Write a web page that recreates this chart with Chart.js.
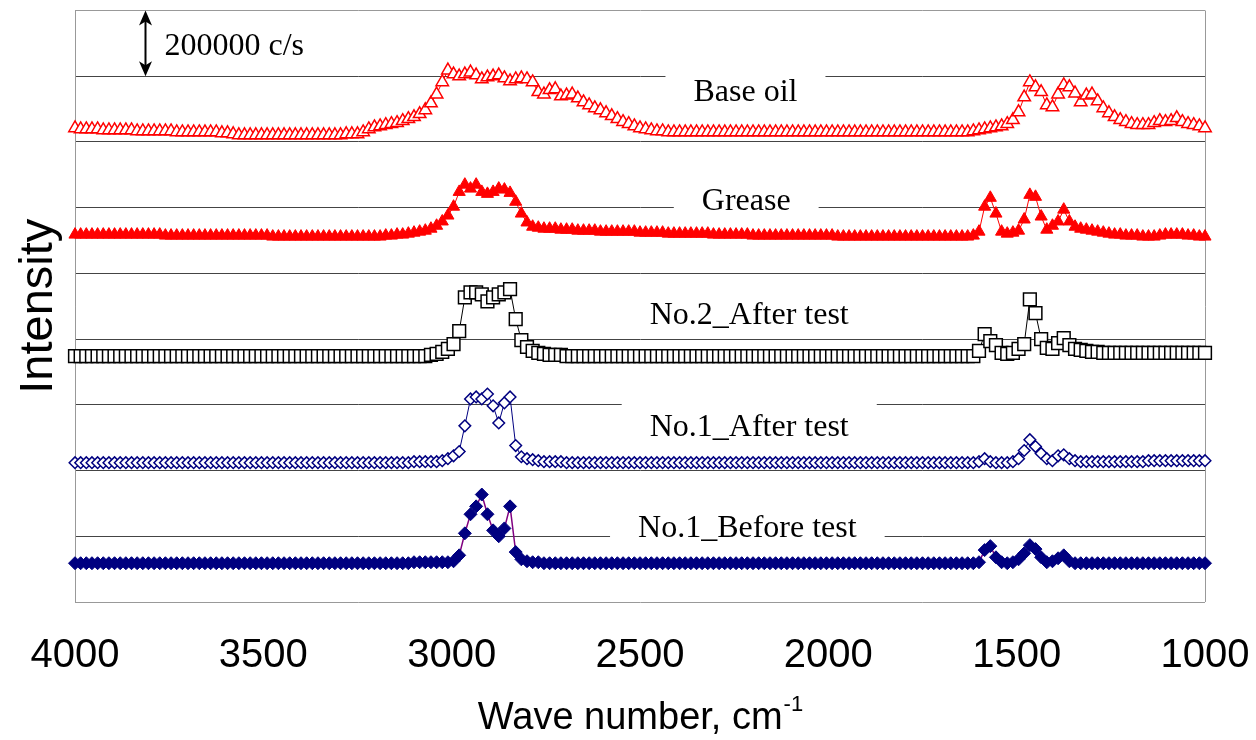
<!DOCTYPE html>
<html>
<head>
<meta charset="utf-8">
<title>IR spectra</title>
<script src="https://cdn.jsdelivr.net/npm/chart.js@4/dist/chart.umd.min.js"></script>
<style>
  body { margin: 0; background: #fff; }
  canvas { display: block; }
</style>
</head>
<body>
<canvas id="myChart" width="1256" height="740"></canvas>
<script>
// 波数 (cm-1)
const wavenumbers = [
  4000,3985,3970,3955,3940,3925,3910,3895,3880,3865,
  3850,3835,3820,3805,3790,3775,3760,3745,3730,3715,
  3700,3685,3670,3655,3640,3625,3610,3595,3580,3565,
  3550,3535,3520,3505,3490,3475,3460,3445,3430,3415,
  3400,3385,3370,3355,3340,3325,3310,3295,3280,3265,
  3250,3235,3220,3205,3190,3175,3160,3145,3130,3115,
  3100,3085,3070,3055,3040,3025,3010,2995,2980,2965,
  2950,2935,2920,2905,2890,2875,2860,2845,2830,2815,
  2800,2785,2770,2755,2740,2725,2710,2695,2680,2665,
  2650,2635,2620,2605,2590,2575,2560,2545,2530,2515,
  2500,2485,2470,2455,2440,2425,2410,2395,2380,2365,
  2350,2335,2320,2305,2290,2275,2260,2245,2230,2215,
  2200,2185,2170,2155,2140,2125,2110,2095,2080,2065,
  2050,2035,2020,2005,1990,1975,1960,1945,1930,1915,
  1900,1885,1870,1855,1840,1825,1810,1795,1780,1765,
  1750,1735,1720,1705,1690,1675,1660,1645,1630,1615,
  1600,1585,1570,1555,1540,1525,1510,1495,1480,1465,
  1450,1435,1420,1405,1390,1375,1360,1345,1330,1315,
  1300,1285,1270,1255,1240,1225,1210,1195,1180,1165,
  1150,1135,1120,1105,1090,1075,1060,1045,1030,1015,
  1000
];

// 強度 (x1000 c/s)、各スペクトルは縦にずらしてある
const baseOil = [
  1442,1439,1439,1439,1439,1436,1436,1436,1436,1436,
  1436,1433,1433,1433,1433,1433,1433,1433,1430,1430,
  1430,1430,1430,1430,1430,1430,1427,1427,1424,1421,
  1421,1421,1421,1421,1421,1421,1421,1421,1421,1421,
  1421,1421,1421,1421,1421,1421,1421,1421,1424,1424,
  1424,1430,1439,1445,1448,1452,1455,1458,1464,1470,
  1476,1485,1497,1518,1545,1582,1618,1606,1600,1606,
  1612,1603,1591,1597,1600,1603,1594,1585,1591,1594,
  1591,1582,1552,1545,1558,1561,1539,1542,1545,1533,
  1521,1512,1503,1497,1488,1479,1470,1461,1455,1448,
  1442,1439,1436,1433,1433,1430,1430,1430,1430,1430,
  1430,1430,1430,1430,1430,1430,1430,1430,1430,1430,
  1430,1430,1430,1430,1430,1430,1430,1430,1430,1430,
  1430,1430,1430,1430,1430,1430,1430,1430,1430,1430,
  1430,1430,1430,1430,1430,1430,1430,1430,1430,1430,
  1430,1430,1430,1430,1430,1430,1430,1430,1430,1433,
  1436,1439,1442,1445,1448,1455,1467,1491,1536,1582,
  1567,1552,1512,1506,1545,1573,1567,1548,1521,1542,
  1545,1524,1503,1488,1476,1467,1461,1455,1452,1452,
  1452,1458,1464,1461,1464,1473,1461,1455,1452,1448,
  1442
];

const grease = [
  1118,1118,1118,1118,1118,1118,1118,1118,1118,1118,
  1118,1118,1118,1118,1118,1118,1115,1115,1115,1115,
  1115,1115,1115,1115,1115,1115,1115,1115,1115,1115,
  1115,1115,1115,1115,1115,1112,1112,1112,1112,1112,
  1112,1112,1112,1112,1112,1112,1112,1112,1112,1112,
  1112,1112,1112,1112,1112,1115,1115,1118,1118,1121,
  1124,1127,1130,1136,1145,1158,1176,1203,1248,1270,
  1258,1270,1248,1242,1248,1258,1255,1245,1218,1182,
  1155,1142,1139,1136,1136,1136,1133,1133,1133,1130,
  1130,1130,1130,1127,1127,1127,1127,1127,1127,1127,
  1124,1124,1124,1124,1124,1121,1121,1121,1121,1121,
  1121,1121,1121,1118,1118,1118,1118,1118,1118,1118,
  1115,1115,1115,1115,1115,1115,1115,1115,1115,1115,
  1115,1115,1115,1115,1115,1112,1112,1112,1112,1112,
  1112,1112,1112,1112,1112,1112,1112,1112,1112,1112,
  1112,1112,1112,1112,1112,1112,1112,1112,1112,1115,
  1127,1203,1230,1182,1127,1121,1124,1130,1164,1239,
  1233,1173,1133,1145,1158,1194,1158,1142,1136,1133,
  1130,1127,1124,1121,1118,1118,1115,1115,1115,1112,
  1112,1112,1115,1118,1118,1118,1118,1115,1115,1112,
  1112
];

const no2After = [
  748,748,748,748,748,748,748,748,748,748,
  748,748,748,748,748,748,748,748,748,748,
  748,748,748,748,748,748,748,748,748,748,
  748,748,748,748,748,748,748,748,748,748,
  748,748,748,748,748,748,748,748,748,748,
  748,748,748,748,748,748,748,748,748,748,
  748,748,748,752,755,761,770,785,824,927,
  942,942,936,915,927,936,942,952,861,797,
  776,764,758,755,752,752,752,748,748,748,
  748,748,748,748,748,748,748,748,748,748,
  748,748,748,748,748,748,748,748,748,748,
  748,748,748,748,748,748,748,748,748,748,
  748,748,748,748,748,748,748,748,748,748,
  748,748,748,748,748,748,748,748,748,748,
  748,748,748,748,748,748,748,748,748,748,
  748,748,748,748,748,748,748,748,748,748,
  764,815,794,782,758,755,758,770,785,921,
  879,800,773,770,788,803,782,770,767,764,
  761,761,758,758,758,758,758,758,758,758,
  758,758,758,758,758,758,758,758,758,758,
  758
];

const no1After = [
  424,424,424,424,424,424,424,424,424,424,
  424,424,424,424,424,424,424,424,424,424,
  424,424,424,424,424,424,424,424,424,424,
  424,424,424,424,424,424,424,424,424,424,
  424,424,424,424,424,424,424,424,424,424,
  424,424,424,424,424,424,424,424,424,424,
  427,427,427,427,427,430,436,445,458,536,
  618,624,618,633,597,545,606,624,476,442,
  436,433,430,427,427,427,427,424,424,424,
  424,424,424,424,424,424,424,424,424,424,
  424,424,424,424,424,424,424,424,424,424,
  424,424,424,424,424,424,424,424,424,424,
  424,424,424,424,424,424,424,424,424,424,
  424,424,424,424,424,424,424,424,424,424,
  424,424,424,424,424,424,424,424,424,424,
  424,424,424,424,424,424,424,424,424,424,
  427,436,427,424,424,424,427,436,461,494,
  473,452,436,430,445,448,436,430,427,427,
  427,427,427,427,427,427,427,427,427,427,
  430,430,430,430,430,430,430,430,430,430,
  430
];

const no1Before = [
  118,118,118,118,118,118,118,118,118,118,
  118,118,118,118,118,118,118,118,118,118,
  118,118,118,118,118,118,118,118,118,118,
  118,118,118,118,118,118,118,118,118,118,
  118,118,118,118,118,118,118,118,118,118,
  118,118,118,118,118,118,118,118,118,118,
  121,121,121,121,121,121,121,124,142,209,
  267,291,327,267,218,200,224,291,152,130,
  124,121,121,118,118,118,118,118,118,118,
  118,118,118,118,118,118,118,118,118,118,
  118,118,118,118,118,118,118,118,118,118,
  118,118,118,118,118,118,118,118,118,118,
  118,118,118,118,118,118,118,118,118,118,
  118,118,118,118,118,118,118,118,118,118,
  118,118,118,118,118,118,118,118,118,118,
  118,118,118,118,118,118,118,118,118,118,
  121,158,170,136,121,118,121,130,148,173,
  161,136,121,124,133,142,124,118,118,118,
  118,118,118,118,118,118,118,118,118,118,
  118,118,118,118,118,118,118,118,118,118,
  118
];

const seriesNames = ['Base oil', 'Grease', 'No.2_After test', 'No.1_After test', 'No.1_Before test'];
const xTicks = [4000, 3500, 3000, 2500, 2000, 1500, 1000];
const scaleBar = 200; // 200000 c/s

function toPoints(values) {
  return values.map((v, i) => ({ x: wavenumbers[i], y: v }));
}

// ラベルを置く位置 (波数, 強度)
const tagSpots = [
  { wn: 2220, level: 1552 },
  { wn: 2218, level: 1221 },
  { wn: 2210, level: 876 },
  { wn: 2210, level: 533 },
  { wn: 2215, level: 227 }
];

const decorPlugin = {
  id: 'decor',
  beforeDatasetsDraw(chart) {
    // 系列名 (白い枠で罫線を隠す)
    const { ctx, scales: { x, y } } = chart;
    ctx.save();
    ctx.font = '32px "Liberation Serif", "Times New Roman", serif';
    ctx.textAlign = 'center';
    ctx.textBaseline = 'middle';
    seriesNames.forEach((name, i) => {
      const cx = x.getPixelForValue(tagSpots[i].wn);
      const cy = y.getPixelForValue(tagSpots[i].level);
      const w = ctx.measureText(name).width + 56;
      ctx.fillStyle = '#fff';
      ctx.fillRect(cx - w / 2, cy - 24, w, 45);
      ctx.fillStyle = '#000';
      ctx.fillText(name, cx, cy + 1);
    });
    ctx.restore();
  },
  afterDraw(chart) {
    const { ctx, scales: { x, y }, chartArea } = chart;
    ctx.save();

    // スケールの矢印 (1目盛 = 200000 c/s)
    const ax = Math.round(x.getPixelForValue(3815)) + 0.5;
    const y1 = y.getPixelForValue(1800);
    const y2 = y.getPixelForValue(1800 - scaleBar);
    ctx.strokeStyle = '#000';
    ctx.fillStyle = '#000';
    ctx.lineWidth = 2;
    ctx.beginPath();
    ctx.moveTo(ax, y1 + 10);
    ctx.lineTo(ax, y2 - 10);
    ctx.stroke();
    ctx.beginPath();
    ctx.moveTo(ax, y1);
    ctx.lineTo(ax - 6.5, y1 + 15);
    ctx.lineTo(ax, y1 + 11);
    ctx.lineTo(ax + 6.5, y1 + 15);
    ctx.closePath();
    ctx.fill();
    ctx.beginPath();
    ctx.moveTo(ax, y2);
    ctx.lineTo(ax - 6.5, y2 - 15);
    ctx.lineTo(ax, y2 - 11);
    ctx.lineTo(ax + 6.5, y2 - 15);
    ctx.closePath();
    ctx.fill();

    ctx.font = '32px "Liberation Serif", "Times New Roman", serif';
    ctx.textAlign = 'left';
    ctx.textBaseline = 'alphabetic';
    ctx.fillText('200000 c/s', ax + 19, 55);

    // 横軸タイトル (上付き -1)
    const mainFont = '38px "Liberation Sans", Arial, sans-serif';
    const supFont = '22px "Liberation Sans", Arial, sans-serif';
    ctx.font = mainFont;
    const t1 = 'Wave number, cm';
    const w1 = ctx.measureText(t1).width;
    ctx.font = supFont;
    const w2 = ctx.measureText('-1').width;
    const cx = (chartArea.left + chartArea.right) / 2;
    const startX = cx - (w1 + w2) / 2;
    ctx.font = mainFont;
    ctx.fillText(t1, startX, 729);
    ctx.font = supFont;
    ctx.fillText('-1', startX + w1 + 1, 711);

    // 縦軸タイトル
    ctx.translate(52, (chartArea.top + chartArea.bottom) / 2);
    ctx.rotate(-Math.PI / 2);
    ctx.font = '47px "Liberation Sans", Arial, sans-serif';
    ctx.textAlign = 'center';
    ctx.fillText('Intensity', 0, 0);
    ctx.restore();
  }
};

const ctx = document.getElementById('myChart').getContext('2d');

const myChart = new Chart(ctx, {
  type: 'line',
  data: {
    datasets: [
      {
        label: seriesNames[0],
        data: toPoints(baseOil),
        borderColor: '#ff0000',
        borderWidth: 1,
        pointStyle: 'triangle',
        pointRadius: 7.2,
        pointBorderWidth: 1.5,
        pointBorderColor: '#ff0000',
        pointBackgroundColor: '#ffffff'
      },
      {
        label: seriesNames[1],
        data: toPoints(grease),
        borderColor: '#ff0000',
        borderWidth: 1,
        pointStyle: 'triangle',
        pointRadius: 7,
        pointBorderWidth: 1,
        pointBorderColor: '#ff0000',
        pointBackgroundColor: '#ff0000'
      },
      {
        label: seriesNames[2],
        data: toPoints(no2After),
        borderColor: '#000000',
        borderWidth: 1,
        pointStyle: 'rect',
        pointRadius: 9,
        pointBorderWidth: 1.5,
        pointBorderColor: '#000000',
        pointBackgroundColor: '#ffffff'
      },
      {
        label: seriesNames[3],
        data: toPoints(no1After),
        borderColor: '#000080',
        borderWidth: 1,
        pointStyle: 'rectRot',
        pointRadius: 5.8,
        pointBorderWidth: 1.5,
        pointBorderColor: '#000080',
        pointBackgroundColor: '#ffffff'
      },
      {
        label: seriesNames[4],
        data: toPoints(no1Before),
        borderColor: '#800080',
        borderWidth: 1.5,
        pointStyle: 'rectRot',
        pointRadius: 6.5,
        pointBorderWidth: 1,
        pointBorderColor: '#000080',
        pointBackgroundColor: '#000080'
      }
    ]
  },
  options: {
    responsive: false,
    devicePixelRatio: 1,
    animation: false,
    clip: false,
    layout: {
      padding: { top: 8, right: 51, left: 0, bottom: 0 }
    },
    elements: {
      line: { tension: 0 }
    },
    scales: {
      x: {
        type: 'linear',
        reverse: true,
        min: 1000,
        max: 4000,
        afterFit: (scale) => {
          scale.height = 138;
          scale.paddingLeft = 0;
          scale.paddingRight = 0;
        },
        afterBuildTicks: (scale) => {
          scale.ticks = xTicks.map(v => ({ value: v }));
        },
        ticks: {
          padding: 30,
          color: '#000',
          maxRotation: 0,
          autoSkip: false,
          callback: (v) => String(v),
          font: { family: '"Liberation Sans", Arial, sans-serif', size: 40 }
        },
        grid: {
          drawTicks: false,
          color: (c) => (c.tick && (c.tick.value === 4000 || c.tick.value === 1000)) ? '#999999' : 'rgba(0,0,0,0)'
        },
        border: { display: false }
      },
      y: {
        min: 0,
        max: 1800,
        afterFit: (scale) => { scale.width = 75; },
        ticks: { display: false, stepSize: 200 },
        grid: {
          drawTicks: false,
          lineWidth: 1,
          color: (c) => (c.index === 0 || c.index === 9) ? '#999999' : '#444444'
        },
        border: { display: true, color: '#999999' }
      }
    },
    plugins: {
      legend: { display: false },
      tooltip: { enabled: false }
    }
  },
  plugins: [decorPlugin]
});
</script>
</body>
</html>
